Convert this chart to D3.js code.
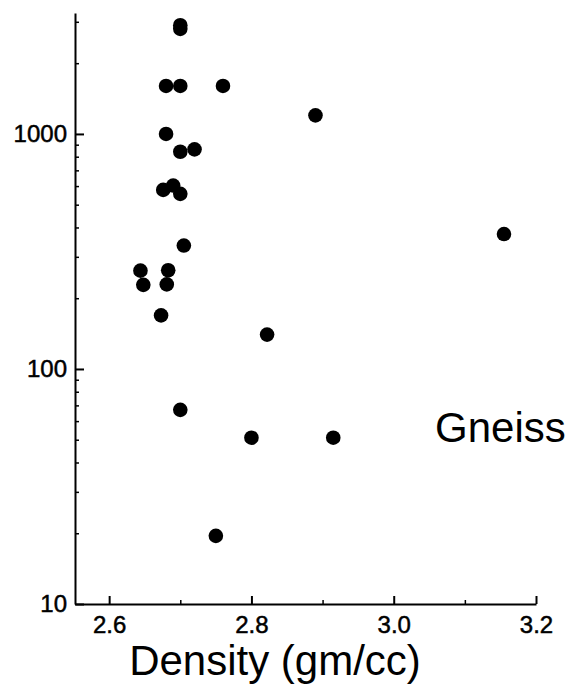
<!DOCTYPE html>
<html>
<head>
<meta charset="utf-8">
<script src="https://cdn.jsdelivr.net/npm/d3@7"></script>
<style>
  body { margin: 0; background: #fff; }
  svg { display: block; font-family: "Liberation Sans", Arial, sans-serif; }
  .axis path, .axis line { stroke: #000; }
</style>
</head>
<body>
<div id="chart"></div>
<script>
// Gneiss samples: density (gm/cc) vs. value on log axis
const density = [2.70, 2.70, 2.68, 2.70, 2.76, 2.89, 2.68, 2.70, 2.72, 2.676, 2.69, 2.70,
                 2.705, 2.644, 2.648, 2.683, 2.681, 2.673, 2.822, 2.70, 2.80, 2.915, 2.75, 3.155];
const values  = [2900, 2800, 1600, 1600, 1600, 1200, 1000, 840, 860, 578, 603, 556,
                 335, 262, 228, 263, 229, 169, 140, 67, 51, 51, 19.5, 375];
const xMajor = [2.6, 2.8, 3.0, 3.2];
const xMinor = [2.7, 2.9, 3.1];
const yMajor = [10, 100, 1000];
const yMinor = [20, 30, 40, 50, 60, 70, 80, 90, 200, 300, 400, 500, 600, 700, 800, 900, 2000, 3000];
const label = 'Gneiss';
const xTitle = 'Density (gm/cc)';

const width = 579, height = 698;
const svg = d3.select('#chart').append('svg')
    .attr('width', width)
    .attr('height', height);

const x = d3.scaleLinear().domain([2.552, 3.2]).range([75, 536]);
const y = d3.scaleLog().domain([10, 3270]).range([604, 13]);

const points = density.map((d, i) => ({ d: d, v: values[i] }));

// minor ticks first, no labels
svg.append('g')
    .attr('class', 'axis')
    .attr('transform', 'translate(0,' + y.range()[0] + ')')
    .call(d3.axisBottom(x).tickValues(xMinor).tickSize(-4).tickFormat(''))
    .call(g => g.select('.domain').remove())
    .selectAll('line').attr('stroke-width', 1.5);

svg.append('g')
    .attr('class', 'axis')
    .attr('transform', 'translate(' + x.range()[0] + ',0)')
    .call(d3.axisLeft(y).tickValues(yMinor).tickSize(-4).tickFormat(''))
    .call(g => g.select('.domain').remove())
    .selectAll('line').attr('stroke-width', 1.5);

// major axes
const xAxis = svg.append('g')
    .attr('class', 'axis')
    .attr('transform', 'translate(0,' + y.range()[0] + ')')
    .call(d3.axisBottom(x).tickValues(xMajor).tickSizeInner(-8).tickSizeOuter(0)
        .tickPadding(12).tickFormat(d3.format('.1f')));
xAxis.select('.domain').attr('stroke-width', 2);
xAxis.selectAll('line').attr('stroke-width', 2);
xAxis.selectAll('text')
    .attr('font-size', 24)
    .attr('fill', '#000')
    .attr('stroke', '#000')
    .attr('stroke-width', 0.5);

const yAxis = svg.append('g')
    .attr('class', 'axis')
    .attr('transform', 'translate(' + x.range()[0] + ',0)')
    .call(d3.axisLeft(y).tickValues(yMajor).tickSizeInner(-9).tickSizeOuter(0)
        .tickPadding(8).tickFormat(d3.format('d')));
yAxis.select('.domain').attr('stroke-width', 2);
yAxis.selectAll('line').attr('stroke-width', 2);
yAxis.selectAll('text')
    .attr('font-size', 24)
    .attr('fill', '#000')
    .attr('stroke', '#000')
    .attr('stroke-width', 0.5);

// data points
svg.append('g')
  .selectAll('circle')
  .data(points)
  .enter()
  .append('circle')
    .attr('cx', p => x(p.d))
    .attr('cy', p => y(p.v))
    .attr('r', 7.3)
    .attr('fill', '#000');

// annotation
svg.append('text')
    .attr('x', 435)
    .attr('y', 442)
    .attr('font-size', 42)
    .text(label);

// axis title
svg.append('text')
    .attr('x', 275)
    .attr('y', 675)
    .attr('text-anchor', 'middle')
    .attr('font-size', 42)
    .text(xTitle);
</script>
</body>
</html>
